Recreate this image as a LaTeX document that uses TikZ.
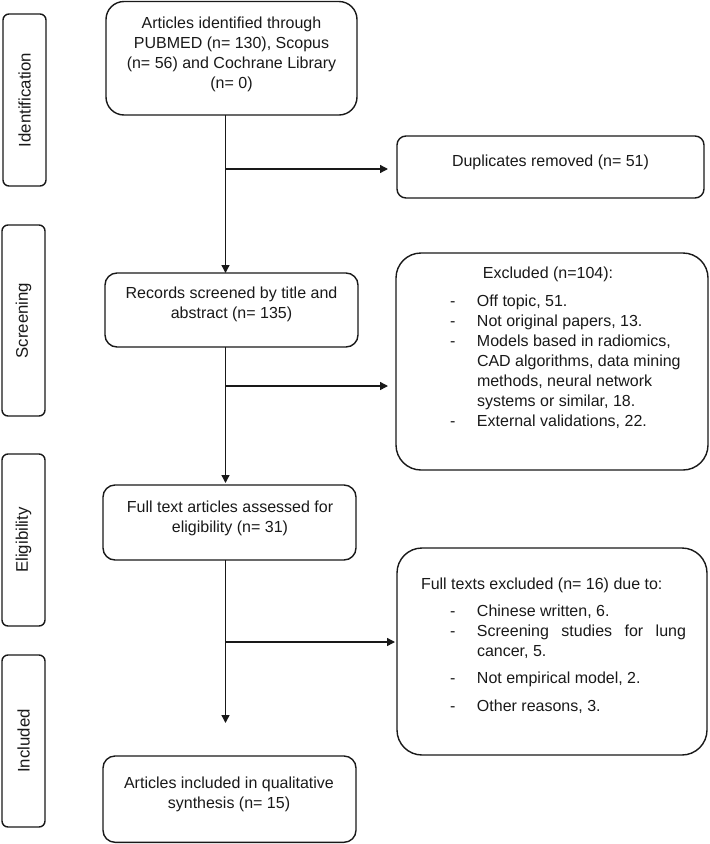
\documentclass[tikz,border=0pt]{standalone}
\usepackage{fontspec}
\setmainfont{Liberation Sans}
\usetikzlibrary{arrows.meta,fit}
\begin{document}
\begin{tikzpicture}[x=1pt,y=-1pt,
  every node/.style={inner sep=0pt, outer sep=0pt},
  txt/.style={font=\fontsize{16}{20}\selectfont, align=center, text=black!90},
  stxt/.style={font=\fontsize{16.8}{20}\selectfont, text=black!90, rotate=90},
  ltxt/.style={font=\fontsize{16}{20}\selectfont, align=left, text=black!90, anchor=base west},
  boxline/.style={draw=black!90, line width=1.4pt, rounded corners=#1},
  conn/.style={draw=black!90, line width=1.4pt, -{Triangle[length=8pt,width=8pt]}},
]
\useasboundingbox (0,0) rectangle (710,844);

% side stage labels
\node[boxline=6pt, fit={(3,14) (46,186)}] (lid) {};
\node[stxt] (tid) at (lid.center) {Identification};
\node[boxline=6pt, fit={(2,225) (45,416)}] (lsc) {};
\node[stxt] (tsc) at (lsc.center) {Screening};
\node[boxline=6pt, fit={(2,454) (45,626)}] (lel) {};
\node[stxt] (tel) at (lel.center) {Eligibility};
\node[boxline=6pt, fit={(2,655) (45,827)}] (lin) {};
\node[stxt] (tin) at (lin.center) {Included};

% main column
\node[boxline=18pt, fit={(106,1.5) (357,115)}] (b1) {};
\node[txt] (t1) at (231.5,54.3) {Articles identified through\\PUBMED (n= 130), Scopus\\(n= 56) and Cochrane Library\\(n= 0)};
\node[boxline=12pt, fit={(105,273) (358,347)}] (b2) {};
\node[txt] (t2) at (231.5,304.5) {Records screened by title and\\abstract (n= 135)};
\node[boxline=12pt, fit={(103,485) (356,560)}] (b3) {};
\node[txt] (t3) at (230,518.5) {Full text articles assessed for\\eligibility (n= 31)};
\node[boxline=12pt, fit={(103,756) (356,842.3)}] (b4) {};
\node[txt] (t4) at (229,794.5) {Articles included in qualitative\\synthesis (n= 15)};

% right column
\node[boxline=9pt, fit={(397,136) (704,198)}] (d) {};
\node[txt] (td) at (550.5,162.5) {Duplicates removed (n= 51)};

\node[boxline=25pt, fit={(396,253) (708,470)}] (e) {};
\node[txt] (teh) at (548,274.5) {Excluded (n=104):};
\node[ltxt] (tel2) at (450,306.5) {\begin{tabular}[t]{@{}p{27pt}@{}l@{}}
-& Off topic, 51.\\
-& Not original papers, 13.\\
-& Models based in radiomics,\\
 & CAD algorithms, data mining\\
 & methods, neural network\\
 & systems or similar, 18.\\
-& External validations, 22.
\end{tabular}};

\node[boxline=25pt, fit={(397,548) (707,755)}] (f) {};
\node[ltxt] (tfh) at (421,589) {Full texts excluded (n= 16) due to:};
\node[ltxt] (tfl) at (450,616) {\begin{tabular}[t]{@{}p{27pt}@{}l@{}}
-& Chinese written, 6.\\
-& \makebox[209pt][s]{Screening studies for lung}\\
 & cancer, 5.\\[7pt]
-& Not empirical model, 2.\\[8pt]
-& Other reasons, 3.
\end{tabular}};

% connectors
\coordinate (j1) at (225.5,169);
\coordinate (j2) at (225.5,386);
\coordinate (j3) at (225.5,642);
\coordinate (e3) at (225.5,723);
\draw[conn] (b1.south -| j1) -- (b2.north -| j1);
\draw[conn, shorten >=9pt] (j1) -- (d.west |- j1);
\draw[conn, shorten >=2pt] (b2.south -| j2) -- (b3.north -| j2);
\draw[conn, shorten >=8pt] (j2) -- (e.west |- j2);
\draw[conn] (b3.south -| j3) -- (e3);
\draw[conn, shorten >=2pt] (j3) -- (f.west |- j3);
\end{tikzpicture}
\end{document}
